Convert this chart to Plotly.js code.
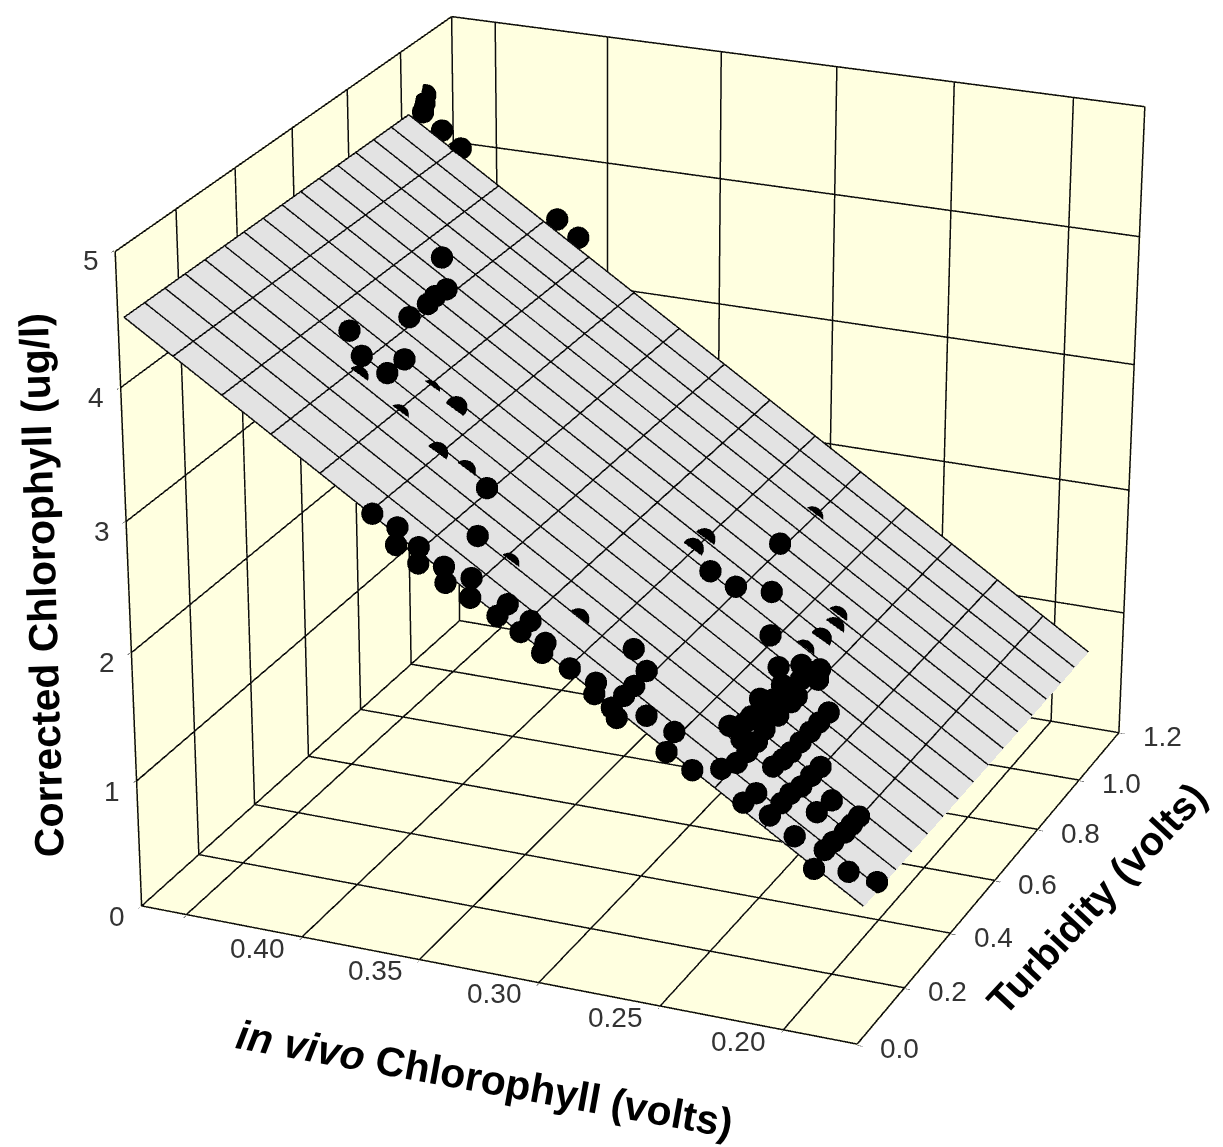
<!DOCTYPE html><html><head><meta charset="utf-8"><script src="https://cdn.plot.ly/plotly-3.0.1.min.js"></script>
<style>html,body{margin:0;padding:0;width:1223px;height:1147px;overflow:hidden;background:#fff}#g{position:absolute}</style></head><body><div id="g"></div>
<script>
// Data
const chlVolts=[.469,.467,.465,.455,.446,.405,.395,.420,.409,.410,.409,.409,.418,.409,.399,.399,.407,.389,.377,.389,.370,.360,.349,.339,.328,.299,.278,.290,.290,.270,.280,.270,.260,.250,.241,.239,.239,.241,.271,.367,.358,.357,.349,.348,.339,.337,.330,.327,.316,.316,.307,.307,.299,.298,.288,.279,.277,.268,.260,.250,.248,.238,.270,.269,.269,.270,.241,.231,.229,.233,.239,.236,.235,.230,.230,.233,.230,.233,.229,.231,.238,.219,.219,.219,.219,.219,.219,.220,.209,.209,.209,.210,.210,.210,.218,.219,.199,.200,.189,.189,.189,.190,.190,.200,.180,.171,.189,.236,.236,.229,.229,.230,.236];
const turbVolts=[1.086,1.065,1.042,1.028,1.022,1.037,1.031,.723,.644,.610,.574,.506,.367,.334,.401,.339,.297,.286,.395,.400,.263,.276,.262,.139,.150,.146,.161,.554,.507,.670,.481,.487,.536,.432,.621,.588,.534,.481,.820,.008,.019,.003,.015,.003,.017,.003,.037,.003,.003,.042,.006,.044,.025,.003,.014,.028,.003,.003,.040,.051,.003,.006,.135,.078,.040,.003,.376,.447,.419,.388,.159,.216,.294,.318,.341,.247,.210,.148,.132,.049,.271,.362,.323,.286,.246,.207,.175,.146,.228,.189,.149,.115,.080,.034,.059,.019,.173,.122,.183,.153,.124,.087,.053,.033,.048,.076,.003,.190,.340,.170,.090,.265,.420];
const chlCorrected=[4.54,4.51,4.48,4.38,4.27,3.79,3.68,3.92,3.83,3.83,3.83,3.84,3.94,3.83,3.72,3.72,3.76,3.54,3.45,3.53,3.35,3.22,3.13,3.02,2.84,2.52,2.32,2.41,2.42,2.21,2.31,2.21,2.11,2.00,1.83,1.81,1.83,1.83,2.16,3.35,3.25,3.16,3.14,3.05,3.02,2.94,2.92,2.86,2.76,2.76,2.66,2.66,2.56,2.54,2.43,2.32,2.30,2.15,2.11,2.00,1.96,1.85,2.23,2.23,2.23,2.22,1.89,1.77,1.75,1.80,1.87,1.84,1.82,1.77,1.77,1.81,1.77,1.81,1.76,1.79,1.86,1.64,1.64,1.64,1.64,1.64,1.65,1.65,1.52,1.53,1.53,1.54,1.54,1.54,1.63,1.64,1.41,1.42,1.30,1.30,1.30,1.30,1.31,1.42,1.19,1.09,1.28,1.84,1.84,1.76,1.76,1.77,1.84];
// Points that the plane partly hides in the reference (by index in the arrays above)
const partlyHidden=[0,1,2,3,4,5,6,16,17,18,19,20,21,24,25,27,28,34,35,36,37,38];
const planeX=[.4684,.1698];
const planeY=[.0121,1.017];
const planeZ=[[4.4963,1.0334],[4.4795,1.0166]];
const xTickVals=[.45,.40,.35,.30,.25,.20];
const xTickText=['0.40','0.35','0.30','0.25','0.20'];
const xLabelVals=[.40,.35,.30,.25,.20];
const yTickVals=[0,.2,.4,.6,.8,1,1.2];
const yTickText=['0.0','0.2','0.4','0.6','0.8','1.0','1.2'];
const zTickVals=[0,1,2,3,4,5];
const zTickText=['0','1','2','3','4','5'];
const xTitle='<i>in vivo</i> Chlorophyll (volts)';
const yTitle='Turbidity (volts)';
const zTitle='Corrected Chlorophyll (ug/l)';
const xRange=[.47,.17],yRange=[0,1.2],zRange=[0,5],meshCells=15;

const S=5000,cam=[2.8239,-6.7505,3.0256,0.0361,-0.5628,-0.4594,0.0066,0.0079,1.0099,0.9036],pp=[498.0069,1003.7267];
const left=pp[0]-S/2,top0=pp[1]-S/2;
const g=document.getElementById('g');g.style.left=left+'px';g.style.top=top0+'px';
const px=v=>(v-left)/S,py=v=>1-(v-top0)/S;
const [xa,xb]=xRange,[ya,yb]=yRange,[za,zb]=zRange;
const inX=v=>v===xa?v-.0004:v===xb?v+.0004:v,inY=v=>v===ya?v+.0015:v===yb?v-.0015:v,inZ=v=>v===za?v+.006:v===zb?v-.006:v;
function segs(list,inset){const X=[],Y=[],Z=[];list.forEach(s=>{const q=inset?[inX(s[0]),inY(s[1]),inZ(s[2]),inX(s[3]),inY(s[4]),inZ(s[5])]:s;X.push(q[0],q[3],null);Y.push(q[1],q[4],null);Z.push(q[2],q[5],null)});return{x:X,y:Y,z:Z}}
const wall=[];
xTickVals.forEach(x=>{wall.push([x,ya,za,x,yb,za],[x,yb,za,x,yb,zb])});
yTickVals.forEach(y=>{wall.push([xa,y,za,xb,y,za],[xa,y,za,xa,y,zb])});
zTickVals.forEach(z=>{wall.push([xa,ya,z,xa,yb,z],[xa,yb,z,xb,yb,z])});
wall.push([xb,ya,za,xb,yb,za],[xb,yb,za,xb,yb,zb],[xa,yb,za,xa,yb,zb],[xa,ya,za,xa,ya,zb],[xa,ya,za,xa,yb,za],[xa,yb,za,xb,yb,za]);
const zAt=(u,v)=>planeZ[0][0]*(1-u)*(1-v)+planeZ[0][1]*u*(1-v)+planeZ[1][0]*(1-u)*v+planeZ[1][1]*u*v;
const xAt=u=>planeX[0]+(planeX[1]-planeX[0])*u,yAt=v=>planeY[0]+(planeY[1]-planeY[0])*v,lift=.006;
const mesh=[];
for(let i=0;i<=meshCells;i++){const t=i/meshCells;
 mesh.push([xAt(t),yAt(0),zAt(t,0)+lift,xAt(t),yAt(1),zAt(t,1)+lift]);
 mesh.push([xAt(0),yAt(t),zAt(0,t)+lift,xAt(1),yAt(t),zAt(1,t)+lift]);}
const line=(list,w,inset)=>Object.assign({type:'scatter3d',mode:'lines',line:{color:'#0c0c0c',width:w},hoverinfo:'skip',showlegend:false},segs(list,inset));
// Slide each unhidden marker a little along the line of sight so it clears the plane without moving on screen,
// stopping short of the axis limits so that no marker is clipped
const sight=[-.102,-.962,2.55];
const slide=(i)=>partlyHidden.includes(i)?0:Math.max(0,Math.min(.032,(turbVolts[i]-.001)/.962,(chlVolts[i]-.1705)/.102));
const mx=chlVolts.map((v,i)=>v+sight[0]*slide(i));
const my=turbVolts.map((v,i)=>v+sight[1]*slide(i));
const mz=chlCorrected.map((v,i)=>v+sight[2]*slide(i));
const data=[line(wall,3,true),
 {type:'surface',x:planeX,y:planeY,z:planeZ,showscale:false,colorscale:[[0,'#e3e3e3'],[1,'#e3e3e3']],lighting:{ambient:1,diffuse:0,specular:0,roughness:1,fresnel:0},hoverinfo:'skip'},
 line(mesh,3,false),
 {type:'scatter3d',mode:'markers',x:mx,y:my,z:mz,marker:{size:13,color:'#000',symbol:'circle',line:{width:0}},showlegend:false}];
const tf={family:'Liberation Sans, Arial, sans-serif',size:28,color:'#333'};
const ann=[];
const a3=(x,y,z,text,xs,ys)=>ann.push({x,y,z,text,showarrow:false,xshift:xs,yshift:ys,font:tf,xanchor:'center',yanchor:'middle'});
xLabelVals.forEach((v,i)=>a3(v,ya,za,xTickText[i],-44,-10));
yTickVals.forEach((v,i)=>a3(xb,v,za,yTickText[i],42,-3));
zTickVals.forEach((v,i)=>a3(xa,ya,v,zTickText[i],-23,-10));
const tl=(text,x,y,ang,size)=>({text,x:px(x),y:py(y),xref:'paper',yref:'paper',textangle:ang,showarrow:false,xanchor:'center',yanchor:'middle',font:{family:'Liberation Sans, Arial, sans-serif',size,color:'#000',weight:700}});
const axis=(range,tickvals)=>({range,tickvals,showbackground:true,backgroundcolor:'#ffffe0',showgrid:false,showspikes:false,zeroline:false,showticklabels:false,showline:false,ticks:'outside',ticklen:4,tickcolor:'#000',title:{text:''}});
const layout={width:S,height:S,margin:{l:0,r:0,t:0,b:0},paper_bgcolor:'#fff',showlegend:false,
 annotations:[tl('<b>'+xTitle+'</b>',485,1079,10.3,41),tl('<b>'+yTitle+'</b>',1097,898,-47,40),tl('<b>'+zTitle+'</b>',42,585,-91.7,41)],
 scene:{dragmode:'orbit',domain:{x:[0,1],y:[0,1]},aspectmode:'manual',aspectratio:{x:1,y:cam[8],z:cam[9]},
 camera:{eye:{x:cam[0],y:cam[1],z:cam[2]},center:{x:cam[3],y:cam[4],z:cam[5]},up:{x:cam[6],y:cam[7],z:1},projection:{type:'perspective'}},
 xaxis:axis(xRange,xTickVals),yaxis:axis(yRange,yTickVals),zaxis:axis(zRange,zTickVals),annotations:ann}};
Plotly.newPlot(g,data,layout,{displayModeBar:false,plotGlPixelRatio:1});
</script></body></html>
